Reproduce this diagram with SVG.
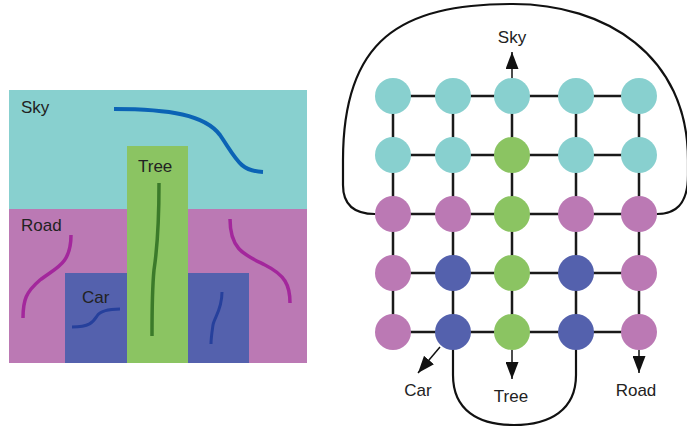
<svg xmlns="http://www.w3.org/2000/svg" width="687" height="427" viewBox="0 0 687 427">
<style>
  .lbl { font-family: "Liberation Sans", Arial, sans-serif; font-size: 17px; fill: #222; }
  .mid { text-anchor: middle; }
  .sky { fill: #88d0cf; }
  .road { fill: #bb79b4; }
  .tree { fill: #8bc462; }
  .car { fill: #5461ad; }
  .grid { stroke: #1a1a1a; stroke-width: 2.5; fill: none; }
  .loop { stroke: #111; stroke-width: 2.2; fill: none; }
  .arrow { stroke: #111; stroke-width: 1.5; fill: none; marker-end: url(#ah); }
  .curve { fill: none; stroke-linecap: butt; }
</style>
<defs>
  <marker id="ah" markerUnits="userSpaceOnUse" markerWidth="17" markerHeight="13" refX="17" refY="6.5" orient="auto">
    <path d="M0,0 L17,6.5 L0,13 z" fill="#111"/>
  </marker>
</defs>
<rect width="687" height="427" fill="#ffffff"/>

<g id="segmentation-image">
  <rect class="sky" x="9" y="90" width="298" height="119"/>
  <rect class="road" x="9" y="209" width="298" height="154"/>
  <rect class="tree" x="127" y="146" width="61" height="217"/>
  <rect class="car" x="65" y="273" width="62" height="90"/>
  <rect class="car" x="188" y="273" width="61" height="90"/>
  <path class="curve" d="M114,109 C170,109 205,115 220,135 C237,160 240,171 263,172" stroke="#0b63b5" stroke-width="4"/>
  <path class="curve" d="M159,183 C159,230 157,250 154,270 C152,290 152,310 152,336" stroke="#3b7a2a" stroke-width="3.5"/>
  <path class="curve" d="M71,235 C71,265 55,268 40,280 C26,292 23,300 23,318" stroke="#a3279c" stroke-width="3.5"/>
  <path class="curve" d="M230,219 C230,250 245,255 265,265 C285,275 290,285 290,303" stroke="#a3279c" stroke-width="3.5"/>
  <path class="curve" d="M72,327 C90,327 93,322 97,316 C101,310 110,309 120,309" stroke="#26409c" stroke-width="3"/>
  <path class="curve" d="M222,292 C222,310 214,318 213,325 C212,332 211,338 211,344" stroke="#26409c" stroke-width="3"/>
  <text class="lbl" x="21" y="113">Sky</text>
  <text class="lbl" x="138" y="172">Tree</text>
  <text class="lbl" x="21" y="231">Road</text>
  <text class="lbl" x="82" y="303">Car</text>
</g>

<g id="connectors">
  <!-- horizontal grid edges -->
  <path class="grid" d="M393,96 H639 M393,155 H639 M393,214 H639 M393,273 H639 M393,332 H639"/>
  <!-- vertical grid edges -->
  <path class="grid" d="M393,96 V332 M453,96 V332 M512,96 V332 M576,96 V332 M639,96 V332"/>
  <!-- loops -->
  <path class="loop" d="M375,214 C355,214 343,205 343,185 L343,160 C343,40 400,4 513,4 C605,4 688,55 688,160 L688,175 C688,205 675,214 657,214"/>
  <path class="loop" d="M453,332 L453,375 C453,410 478,425 514,425 C550,425 576,410 576,375 L576,332"/>
  <!-- arrows -->
  <line class="arrow" x1="512" y1="78" x2="512" y2="52"/>
  <line class="arrow" x1="440" y1="347" x2="418" y2="373"/>
  <line class="arrow" x1="512" y1="350" x2="512" y2="379"/>
  <line class="arrow" x1="639" y1="350" x2="639" y2="373"/>
</g>

<g id="nodes">
  <g id="n11"><circle class="sky" cx="393" cy="96" r="18"/></g>
  <g id="n12"><circle class="sky" cx="453" cy="96" r="18"/></g>
  <g id="n13"><circle class="sky" cx="512" cy="96" r="18"/></g>
  <g id="n14"><circle class="sky" cx="576" cy="96" r="18"/></g>
  <g id="n15"><circle class="sky" cx="639" cy="96" r="18"/></g>
  <g id="n21"><circle class="sky" cx="393" cy="155" r="18"/></g>
  <g id="n22"><circle class="sky" cx="453" cy="155" r="18"/></g>
  <g id="n23"><circle class="tree" cx="512" cy="155" r="18"/></g>
  <g id="n24"><circle class="sky" cx="576" cy="155" r="18"/></g>
  <g id="n25"><circle class="sky" cx="639" cy="155" r="18"/></g>
  <g id="n31"><circle class="road" cx="393" cy="214" r="18"/></g>
  <g id="n32"><circle class="road" cx="453" cy="214" r="18"/></g>
  <g id="n33"><circle class="tree" cx="512" cy="214" r="18"/></g>
  <g id="n34"><circle class="road" cx="576" cy="214" r="18"/></g>
  <g id="n35"><circle class="road" cx="639" cy="214" r="18"/></g>
  <g id="n41"><circle class="road" cx="393" cy="273" r="18"/></g>
  <g id="n42"><circle class="car" cx="453" cy="273" r="18"/></g>
  <g id="n43"><circle class="tree" cx="512" cy="273" r="18"/></g>
  <g id="n44"><circle class="car" cx="576" cy="273" r="18"/></g>
  <g id="n45"><circle class="road" cx="639" cy="273" r="18"/></g>
  <g id="n51"><circle class="road" cx="393" cy="332" r="18"/></g>
  <g id="n52"><circle class="car" cx="453" cy="332" r="18"/></g>
  <g id="n53"><circle class="tree" cx="512" cy="332" r="18"/></g>
  <g id="n54"><circle class="car" cx="576" cy="332" r="18"/></g>
  <g id="n55"><circle class="road" cx="639" cy="332" r="18"/></g>
</g>

<g id="labels">
  <text class="lbl mid" x="512" y="43">Sky</text>
  <text class="lbl mid" x="418" y="396">Car</text>
  <text class="lbl mid" x="511" y="402">Tree</text>
  <text class="lbl mid" x="636" y="396">Road</text>
</g>
</svg>
